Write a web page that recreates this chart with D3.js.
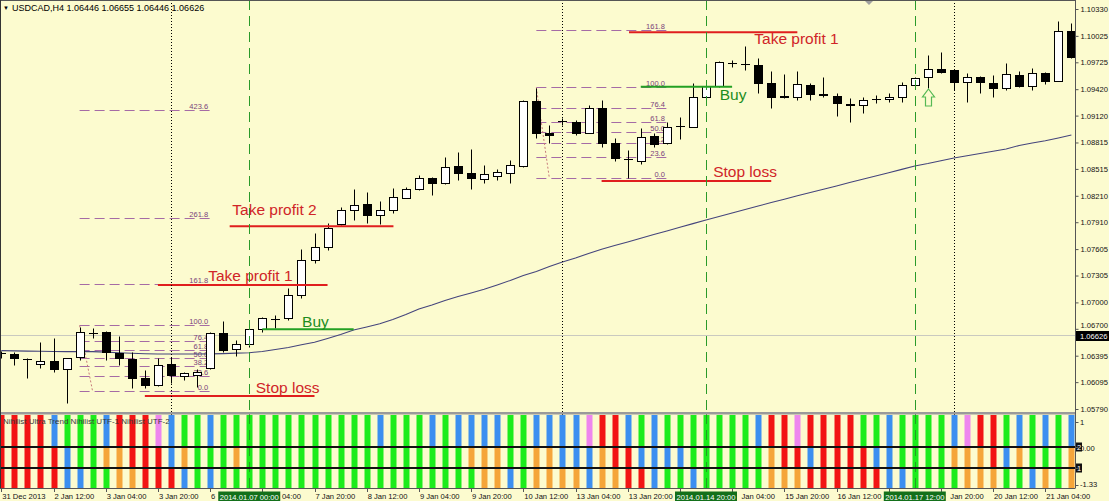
<!DOCTYPE html>
<html><head><meta charset="utf-8">
<script src="https://cdn.jsdelivr.net/npm/d3@7/dist/d3.min.js"></script>
<style>
html,body{margin:0;padding:0;background:#fcfbcf;overflow:hidden;}
svg{display:block;}
text{font-family:"Liberation Sans",Arial,sans-serif;}
</style></head><body>
<svg id="c" width="1109" height="501"></svg>
<script>
// ---------------- DATA ----------------
const headerText = "USDCAD,H4  1.06446 1.06655 1.06446 1.06626";
const indicatorTitle = "Nihilist Ultra Trend  Nihilist UTF-1  Nihilist UTF-2";
const tickBars = [0,4,8,12,16,20,24,28,32,36,40,44,48,52,56,60,64,68,72,76,80];
const tickLabels = ["31 Dec 2013","2 Jan 12:00","3 Jan 04:00","3 Jan 20:00","6 Jan 12:00","7 Jan 04:00","7 Jan 20:00","8 Jan 12:00","9 Jan 04:00","9 Jan 20:00","10 Jan 12:00","13 Jan 04:00","13 Jan 20:00","14 Jan 12:00","15 Jan 04:00","15 Jan 20:00","16 Jan 12:00","17 Jan 04:00","17 Jan 20:00","20 Jan 12:00","21 Jan 04:00"];
const markerBars = [19,54,70];
const markerLabels = ["2014.01.07 00:00","2014.01.14 20:00","2014.01.17 12:00"];
const weekSeparatorBars = [13,43,73];
const priceTicks = [1.10330,1.10025,1.09725,1.09420,1.09120,1.08815,1.08515,1.08210,1.07910,1.07605,1.07305,1.07000,1.06700,1.06395,1.06095,1.05790];
const currentPrice = 1.06626;

const opens = [1.06425,1.06414,1.06362,1.06298,1.06335,1.06248,1.06377,1.06650,1.06668,1.06429,
1.06354,1.06146,1.06063,1.06298,1.06168,1.06180,1.06252,1.06656,1.06468,1.06525,
1.06695,1.06810,1.06820,1.07084,1.07481,1.07632,1.07886,1.08049,1.08113,1.07990,
1.08049,1.08188,1.08284,1.08409,1.08352,1.08548,1.08472,1.08404,1.08435,1.08472,
1.08548,1.09289,1.08926,1.09062,1.09051,1.08926,1.09203,1.08813,1.08626,1.08608,
1.08889,1.08806,1.09000,1.08994,1.09335,1.09456,1.09722,1.09706,1.09694,1.09493,
1.09337,1.09328,1.09467,1.09369,1.09346,1.09250,1.09240,1.09303,1.09305,1.09328,
1.09467,1.09555,1.09646,1.09638,1.09498,1.09562,1.09493,1.09430,1.09581,1.09456,
1.09600,1.09516,1.10080];
const highs = [1.06449,1.06437,1.06369,1.06554,1.06599,1.06369,1.06724,1.06706,1.06676,1.06619,
1.06437,1.06233,1.06366,1.06384,1.06210,1.06244,1.06668,1.06792,1.06573,1.06706,
1.06831,1.06857,1.07160,1.07603,1.07784,1.07898,1.08086,1.08284,1.08256,1.08154,
1.08295,1.08313,1.08446,1.08427,1.08647,1.08710,1.08738,1.08559,1.08511,1.08616,
1.09297,1.09430,1.09013,1.09093,1.09070,1.09240,1.09297,1.08862,1.08730,1.08976,
1.08919,1.09051,1.09108,1.09487,1.09487,1.09740,1.09751,1.09910,1.09770,1.09626,
1.09592,1.09626,1.09487,1.09562,1.09380,1.09316,1.09328,1.09354,1.09373,1.09505,
1.09562,1.09808,1.09845,1.09646,1.09600,1.09570,1.09581,1.09720,1.09630,1.09657,
1.09618,1.10194,1.10174];
const lows = [1.06369,1.06290,1.06146,1.06252,1.06210,1.05862,1.06346,1.06593,1.06346,1.06290,
1.06029,1.06025,1.06051,1.06085,1.06119,1.06040,1.06241,1.06441,1.06392,1.06497,
1.06668,1.06706,1.06800,1.07047,1.07451,1.07595,1.07879,1.07935,1.07898,1.07890,
1.08011,1.08182,1.08276,1.08219,1.08340,1.08389,1.08284,1.08358,1.08389,1.08358,
1.08533,1.08866,1.08806,1.09013,1.08900,1.08919,1.08767,1.08608,1.08409,1.08571,
1.08767,1.08798,1.08851,1.08987,1.09328,1.09448,1.09675,1.09638,1.09373,1.09203,
1.09316,1.09297,1.09297,1.09335,1.09116,1.09044,1.09153,1.09260,1.09278,1.09278,
1.09456,1.09430,1.09607,1.09411,1.09278,1.09380,1.09335,1.09411,1.09441,1.09411,
1.09475,1.09509,1.09770];
const closes = [1.06420,1.06369,1.06360,1.06338,1.06248,1.06366,1.06668,1.06648,1.06441,1.06372,
1.06146,1.06063,1.06290,1.06173,1.06202,1.06210,1.06649,1.06460,1.06525,1.06695,
1.06820,1.06806,1.07084,1.07481,1.07632,1.07848,1.08049,1.08106,1.07993,1.08049,
1.08193,1.08284,1.08409,1.08352,1.08540,1.08472,1.08409,1.08454,1.08480,1.08559,
1.09286,1.08926,1.08903,1.09057,1.08926,1.09203,1.08806,1.08635,1.08622,1.08881,
1.08798,1.08994,1.09004,1.09335,1.09456,1.09732,1.09718,1.09702,1.09493,1.09335,
1.09333,1.09475,1.09365,1.09354,1.09260,1.09246,1.09297,1.09307,1.09328,1.09467,
1.09550,1.09646,1.09612,1.09498,1.09562,1.09498,1.09430,1.09589,1.09456,1.09600,
1.09516,1.10080,1.09782];
const movingAvg = [1.06452,1.06450,1.06447,1.06445,1.06443,1.06441,1.06441,1.06441,1.06435,1.06428,
1.06422,1.06417,1.06414,1.06414,1.06414,1.06414,1.06416,1.06419,1.06424,1.06429,
1.06443,1.06465,1.06488,1.06519,1.06547,1.06590,1.06636,1.06687,1.06721,1.06757,
1.06806,1.06863,1.06925,1.06971,1.07022,1.07067,1.07107,1.07149,1.07198,1.07249,
1.07305,1.07351,1.07408,1.07459,1.07504,1.07555,1.07603,1.07645,1.07686,1.07728,
1.07770,1.07810,1.07852,1.07894,1.07935,1.07975,1.08015,1.08054,1.08094,1.08133,
1.08171,1.08210,1.08247,1.08285,1.08322,1.08360,1.08397,1.08435,1.08472,1.08510,
1.08548,1.08576,1.08608,1.08639,1.08664,1.08690,1.08715,1.08741,1.08781,1.08809,
1.08834,1.08866,1.08900];

// Nihilist indicator states per bar (R red, G green, B blue, O orange, P violet)
const trendRow = "RRRRBGGGBRRRPBGGBGGGGGGGGGGGGBGGGBGBBBBGGBBBBPRRBGBGGGGGGGBRRPRRRRGGBGGGGBPRRGBGBGB".split("");
const utf1Row  = "RRRRRBGGOORRRBOGGGOGGGGGGGGGGGGGGGGGOOOGGOOBBBORRBBBBGGGGGGORRBRRRRBBGGGGOOORBOGGGO".split("");
const utf2Row  = "RRRRRBBGGOORRRBGBGGGGGGGGGGGGGGGGGGGGOOBGOOOOBOORRBGGBGGGGGOOORRRRRRBBGGGGOOOGGBOGO".split("");

// Fibonacci objects: anchor bars and prices
const fibLevels1 = [0,23.6,38.2,50.0,61.8,76.4,100.0,161.8,261.8,423.6];
const fibLevels2 = [0,23.6,38.2,50.0,61.8,76.4,100.0,161.8];
const fibHigh = [1.06744, 1.09448];
const fibLow  = [1.05991, 1.08409];
const fibStartBar = [6, 41];
const fibEndBar = [16, 51];

// Trade levels
const tradeNames  = ["Stop loss","Take profit 1","Take profit 2","Buy","Take profit 1","Buy","Stop loss"];
const tradePrices = [1.05938,1.07198,1.07864,1.06695,1.10065,1.09448,1.08378];
const tradeFrom   = [11,12,17.5,20,48.1,49,46];
const tradeTo     = [24,25,30.05,27,61,56,59];
const tradeKind   = ["red","red","red","green","red","green","red"];
const signalBar = 71;

// ---------------- LAYOUT ----------------
const labelLayout = [
  {bar:19.5, dy:-3},{bar:15.85, dy:-4},{bar:17.7, dy:-11},{bar:23.05, dy:-2},
  {bar:57.7, dy:12},{bar:55.05, dy:13},{bar:54.55, dy:-4}];
const W=1109, H=501, axisX=1075.5, mainTop=2, mainBottom=412;
const rowTop=[415,448,469], rowBot=[446,467,487];
const colors = {R:"#f21414",G:"#1cec1c",B:"#3c8ff0",O:"#f5a53a",P:"#ee86ee"};
const bg="#fcfbcf";
const axisFont = 7.6;

const svg = d3.select("#c");
const x = d3.scaleLinear().domain([0,82]).range([1.3,1071.4]);
const y = d3.scaleLinear().domain([1.05790,1.10330]).range([409,9]);
const cx = i => Math.round(x(i))+0.5;
const py = p => Math.round(y(p))+0.5;

svg.append("rect").attr("width",W).attr("height",H).attr("fill",bg);

svg.append("clipPath").attr("id","mainclip").append("rect").attr("x",0).attr("y",mainTop).attr("width",axisX).attr("height",mainBottom-mainTop);
const main = svg.append("g").attr("clip-path","url(#mainclip)");

svg.append("g").selectAll("line").data(weekSeparatorBars).join("line")
  .attr("x1",d=>cx(d)).attr("x2",d=>cx(d)).attr("y1",0).attr("y2",488)
  .attr("stroke","#000").attr("stroke-width",1).attr("stroke-dasharray","1,2");

main.append("line").attr("x1",0).attr("x2",axisX).attr("y1",py(currentPrice)).attr("y2",py(currentPrice))
  .attr("stroke","#c9c9c0").attr("stroke-width",1);

// fibonacci
[0,1].forEach(k=>{
  const levels = k===0?fibLevels1:fibLevels2;
  const lvPrice = lv => fibLow[k] + (fibHigh[k]-fibLow[k])*lv/100;
  const x0 = x(fibStartBar[k]), x1 = x(fibEndBar[k]);
  const g = main.append("g");
  g.selectAll("line").data(levels).join("line")
    .attr("x1",x0).attr("x2",x1).attr("y1",d=>py(lvPrice(d))).attr("y2",d=>py(lvPrice(d)))
    .attr("stroke","#a56ba5").attr("stroke-width",1).attr("stroke-dasharray","10,5");
  g.selectAll("text").data(levels).join("text")
    .attr("x",x1-2).attr("y",d=>py(lvPrice(d))-2).attr("text-anchor","end")
    .attr("font-size",7.5).attr("fill","#7a3f7a").text(d=>d.toFixed(1));
  g.append("line").attr("x1",x(fibStartBar[k])).attr("y1",py(fibHigh[k]))
    .attr("x2",x(fibStartBar[k]+1)).attr("y2",py(fibLow[k]))
    .attr("stroke","#c77a7a").attr("stroke-dasharray","2,2");
});

main.append("path").datum(movingAvg)
  .attr("d",d3.line().x((d,i)=>x(i)).y(d=>y(d)))
  .attr("fill","none").attr("stroke","#44447c").attr("stroke-width",1.1);

const bars = d3.range(opens.length).map(i=>({i,o:opens[i],h:highs[i],l:lows[i],c:closes[i]}));
const cg = main.append("g");
cg.selectAll(".wick").data(bars).join("line")
  .attr("x1",d=>cx(d.i)).attr("x2",d=>cx(d.i)).attr("y1",d=>py(d.h)).attr("y2",d=>py(d.l))
  .attr("stroke","#000").attr("stroke-width",1);
cg.selectAll(".body").data(bars).join("rect")
  .attr("x",d=>cx(d.i)-4).attr("width",8)
  .attr("y",d=>py(Math.max(d.o,d.c))).attr("height",d=>Math.max(0.01,py(Math.min(d.o,d.c))-py(Math.max(d.o,d.c))))
  .attr("fill",d=>d.c>=d.o?"#fff":"#000").attr("stroke","#000").attr("stroke-width",1);

const tcol = {red:"#e01e1e",green:"#23a023"}, tText={red:"#d02428",green:"#1d8d1d"};
const tg = main.append("g");
tradePrices.forEach((p,k)=>{
  tg.append("line").attr("x1",x(tradeFrom[k])).attr("x2",x(tradeTo[k]))
    .attr("y1",y(p)).attr("y2",y(p)).attr("stroke",tcol[tradeKind[k]]).attr("stroke-width",2);
});

svg.append("g").selectAll("line").data(markerBars).join("line")
  .attr("x1",d=>cx(d)).attr("x2",d=>cx(d)).attr("y1",0).attr("y2",488)
  .attr("stroke","#2a9a2a").attr("stroke-width",1).attr("stroke-dasharray","10,6");

tradePrices.forEach((p,k)=>{
  tg.append("text").attr("x",x(labelLayout[k].bar)).attr("y",y(p)+labelLayout[k].dy)
    .attr("font-size",15.5).attr("fill",tText[tradeKind[k]]).text(tradeNames[k]);
});

{
  const ax = cx(signalBar), at = Math.round(y(lows[signalBar]))+1;
  main.append("path")
    .attr("d",`M${ax},${at} L${ax+6},${at+8} L${ax+3},${at+8} L${ax+3},${at+17} L${ax-3},${at+17} L${ax-3},${at+8} L${ax-6},${at+8} Z`)
    .attr("fill","none").attr("stroke","#55b955").attr("stroke-width",1.2);
}

svg.append("path").attr("d","M865,1 L873,1 L869,5 Z").attr("fill","#a0a0a0");

svg.append("text").attr("x",3).attr("y",10).attr("font-size",6).attr("fill","#000").text("▼");
svg.append("text").attr("x",12).attr("y",10.5).attr("font-size",9).attr("fill","#000").text(headerText);

// ---------------- INDICATOR PANEL ----------------
svg.append("rect").attr("x",0).attr("y",412).attr("width",axisX).attr("height",2.5).attr("fill","#9a9a9a");
const rows=[trendRow,utf1Row,utf2Row];
const ig = svg.append("g");
rows.forEach((row,r)=>{
  ig.selectAll(".r"+r).data(row).join("rect")
    .attr("x",(d,i)=>Math.round(x(i))-2.5).attr("width",6)
    .attr("y",rowTop[r]).attr("height",rowBot[r]-rowTop[r]+1)
    .attr("fill",d=>colors[d]);
});
svg.append("g").selectAll("line").data(markerBars).join("line")
  .attr("x1",d=>cx(d)).attr("x2",d=>cx(d)).attr("y1",414).attr("y2",488)
  .attr("stroke","#2a6a2a").attr("stroke-width",1).attr("stroke-dasharray","10,6").attr("opacity",0.6);
[447,468].forEach(yy=>svg.append("rect").attr("x",0).attr("y",yy-1).attr("width",axisX).attr("height",2).attr("fill","#111"));
svg.append("text").attr("x",3).attr("y",424).attr("font-size",8).attr("fill","#3a3a3a").text(indicatorTitle);

svg.append("line").attr("x1",0).attr("x2",axisX).attr("y1",0.5).attr("y2",0.5).attr("stroke","#555");
svg.append("line").attr("x1",0.5).attr("x2",0.5).attr("y1",0).attr("y2",488).attr("stroke","#333");

// ---------------- AXES ----------------
const yAxis = d3.axisRight(y).tickValues(priceTicks).tickFormat(d3.format(".5f")).tickSize(3).tickPadding(2);
const ya = svg.append("g").attr("transform",`translate(${axisX},0)`).call(yAxis);
ya.select(".domain").attr("d","M0,0V488").attr("stroke","#555");
ya.selectAll(".tick line").attr("stroke","#555");
ya.selectAll("text").attr("font-size",axisFont).attr("fill","#111").attr("font-family","Liberation Sans, Arial");
// the label sitting under the current-price box is pushed up like in the terminal
ya.selectAll(".tick").filter(d=>Math.abs(y(d)-y(currentPrice))<9).select("text").attr("dy","-0.2em");

const indLabels=[{t:"1",y:424.5},{t:"0.00",y:450.5},{t:"-1.33",y:487}];
indLabels.forEach(l=>svg.append("text").attr("x",1080).attr("y",l.y).attr("font-size",axisFont).attr("fill","#111").text(l.t));
[{t:"2",y:447},{t:"1",y:468}].forEach(l=>{
  svg.append("rect").attr("x",1076).attr("y",l.y-4.5).attr("width",6).attr("height",9).attr("fill","#111");
  svg.append("text").attr("x",1079).attr("y",l.y+3).attr("text-anchor","middle").attr("font-size",7.5).attr("fill","#fff").text(l.t);
});
[422,447,468,485].forEach(v=>svg.append("line").attr("x1",axisX).attr("x2",axisX+3).attr("y1",v+0.5).attr("y2",v+0.5).attr("stroke","#555"));

svg.append("rect").attr("x",axisX+0.5).attr("y",py(currentPrice)-4.5).attr("width",33).attr("height",10).attr("fill","#000");
svg.append("text").attr("x",1080).attr("y",py(currentPrice)+3).attr("font-size",axisFont).attr("fill","#fff").text(currentPrice.toFixed(5));

// bottom axis
const xa = svg.append("g").attr("transform","translate(0,488)");
xa.append("line").attr("x1",0).attr("x2",axisX).attr("y1",0.5).attr("y2",0.5).attr("stroke","#555");
xa.selectAll(".tk").data(tickBars).join("line").attr("x1",d=>cx(d)).attr("x2",d=>cx(d)).attr("y1",0).attr("y2",4).attr("stroke","#555");

const boxW = 62;
const boxes = markerBars.map(b=>[x(b)-boxW/2, x(b)+boxW/2]);
const measure = xa.append("text").attr("font-size",axisFont).attr("visibility","hidden");
const textW = s => { measure.text(s); return measure.node().getComputedTextLength(); };
tickBars.forEach((b,i)=>{
  const words = tickLabels[i].split(" ");
  const x0 = x(b)+1;
  let acc = "";
  const visible = [];
  words.forEach((w,wi)=>{
    const pre = acc; acc = acc + (wi?" ":"") + w;
    const ws = x0 + textW(pre + (wi?" ":""));
    const we = x0 + textW(acc);
    const hidden = boxes.some(([a,c])=> we > a && ws < c);
    if(!hidden) visible.push({w, ws, wi});
  });
  let groups=[], cur=null, lastIdx=-2;
  visible.forEach(v=>{
    if(cur && v.wi===lastIdx+1){ cur.t += " "+v.w; } else { cur={t:v.w,x:v.ws}; groups.push(cur); }
    lastIdx=v.wi;
  });
  groups.forEach(gp=> xa.append("text").attr("x",gp.x).attr("y",11).attr("font-size",axisFont).attr("fill","#111").text(gp.t));
});
measure.remove();

const mk = xa.selectAll(".mk").data(markerBars).join("g");
mk.append("rect").attr("x",d=>x(d)-boxW/2).attr("y",3.5).attr("width",boxW).attr("height",10).attr("fill","#13701a");
mk.append("text").attr("x",d=>x(d)).attr("y",11.5).attr("text-anchor","middle").attr("font-size",axisFont).attr("fill","#fff").text((d,i)=>markerLabels[i]);
</script>
</body></html>
